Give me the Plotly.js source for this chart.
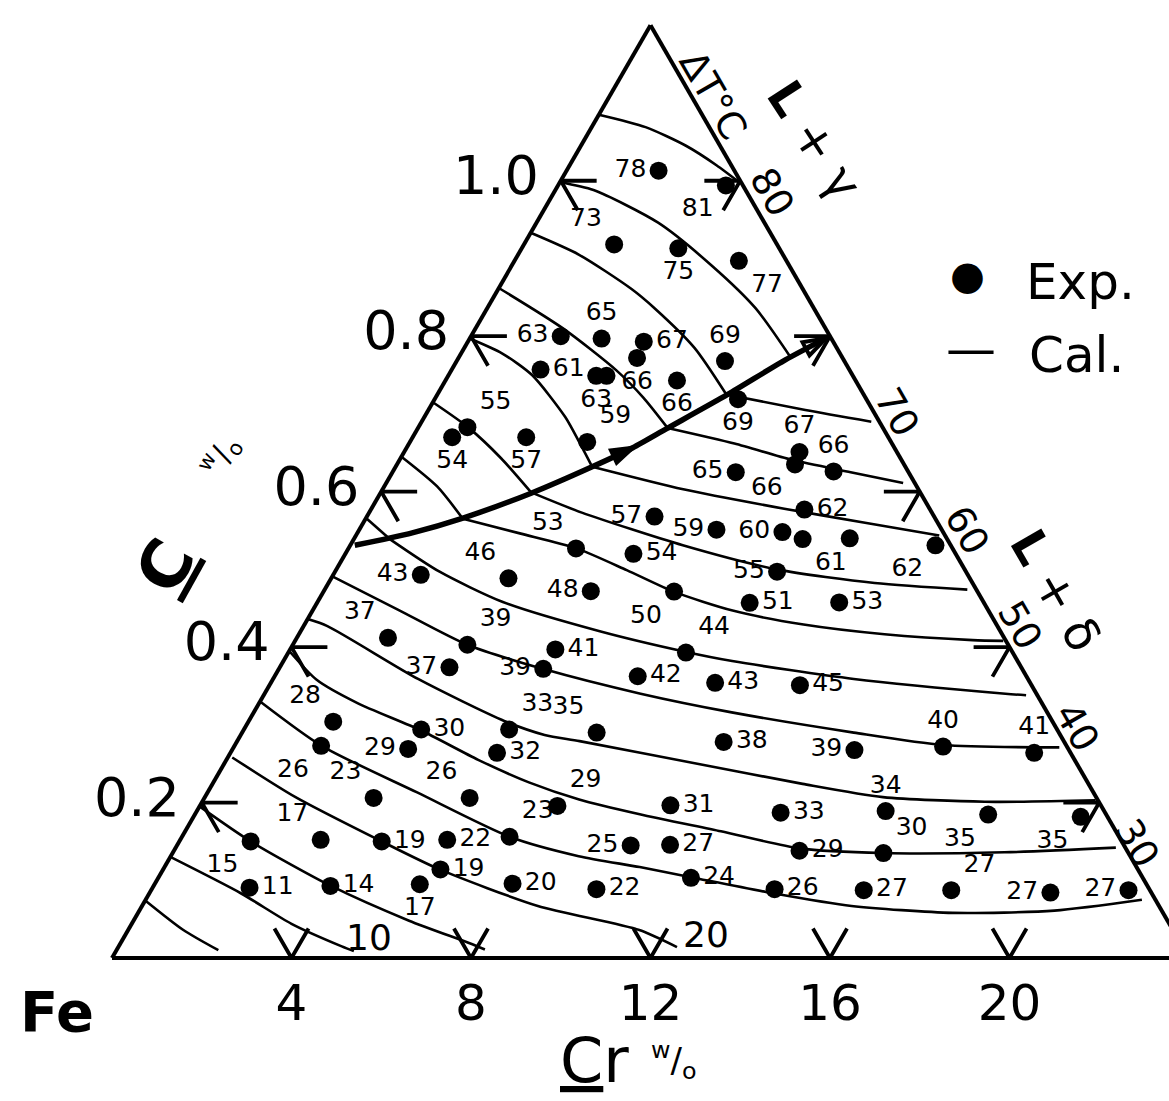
<!DOCTYPE html>
<html>
<head>
<meta charset="utf-8">
<script src="https://cdn.plot.ly/plotly-3.0.1.min.js"></script>
<style>
  html, body { margin: 0; padding: 0; background: #fff; overflow: hidden; }
  #chart { width: 1200px; height: 1101px; }
</style>
</head>
<body>
<div id="chart"></div>
<script>
// Fe corner of the Fe-Cr-C system: freezing range ΔT (°C), experiment vs calculation.
// Ternary scale: Cr (w/o) + 20·C (w/o) = 24 along the right-hand edge.
const SUM = 24;
const C_FACTOR = 20;

// ---- experimental points (Cr w/o, C w/o, measured ΔT °C) ----
const expCr = [2.05, 3.74, 2.01, 3.49, 5.00, 2.00, 2.94, 3.92, 3.98, 5.16,
               1.98, 3.30, 3.53, 5.98, 6.76, 1.09, 0.88, 2.53, 3.95, 7.65,
               6.41, 7.96, 8.81, 8.87, 9.82, 9.66, 9.46, 10.00, 11.04, 13.04,
               6.42, 9.85, 7.81, 9.64, 11.63, 5.07, 1.95, 3.95, 5.95, 2.03,
               3.89, 3.78, 5.91, 5.89, 8.86, 8.09, 9.90, 11.82, 5.91, 7.90,
               1.89, 1.93, 3.95, 3.91, 5.94, 10.85, 13.87, 15.80, 17.91, 3.77,
               5.91, 7.97, 10.48, 13.03, 15.35, 17.68, 19.77, 3.13, 1.59, 4.51,
               5.95, 7.30, 10.11, 10.98, 13.94, 15.84, 2.16, 3.94, 5.91, 6.18,
               7.97, 9.91, 11.87, 13.88, 15.88, 17.83, 20.07, 21.78];
const expC  = [1.013, 0.994, 0.918, 0.913, 0.897, 0.800, 0.797, 0.793, 0.772, 0.743,
               0.757, 0.749, 0.749, 0.768, 0.719, 0.683, 0.670, 0.670, 0.664, 0.625,
               0.568, 0.551, 0.651, 0.635, 0.626, 0.577, 0.548, 0.539, 0.540, 0.531,
               0.520, 0.497, 0.4715, 0.457, 0.4575, 0.527, 0.493, 0.4885, 0.472, 0.412,
               0.403, 0.374, 0.397, 0.372, 0.393, 0.3625, 0.354, 0.351, 0.294, 0.290,
               0.304, 0.273, 0.294, 0.269, 0.264, 0.278, 0.2675, 0.272, 0.264, 0.206,
               0.206, 0.1956, 0.1964, 0.187, 0.189, 0.1845, 0.1816, 0.152, 0.150, 0.150,
               0.152, 0.156, 0.1448, 0.1456, 0.138, 0.135, 0.0905, 0.0927, 0.0949, 0.1139,
               0.0956, 0.0885, 0.1032, 0.0885, 0.0872, 0.0872, 0.0842, 0.0872];
const expDT = [78, 81, 73, 75, 77, 63, 65, 67, 66, 66,
               61, 63, null, 69, 69, 55, 54, 57, 59, 65,
               57, 59, 67, 66, 66, 62, 60, 61, null, 62,
               54, 55, 50, 51, 53, 53, 43, 46, 48, 37,
               39, 37, 41, 39, 44, 42, 43, 45, 33, 35,
               28, 26, 30, 29, 32, 38, 39, 40, 41, 23,
               26, 29, 31, 33, 34, 35, 35, 17, 15, 19,
               22, 23, 25, 27, 29, 30, 11, 14, 17, 19,
               20, 22, 24, 26, 27, 27, 27, 27];
// where each value is written next to its dot
const expLabelSide = ['ML','BL','TL','BC','BR','ML','TC','MR','BC','BC',
                      'MR','BC','MC','TC','BC','TR','BC','BC','TR','ML',
                      'ML','ML','TC','BL','TC','MR','ML','BR','MC','BL',
                      'MR','ML','BL','MR','MR','TL','ML','TL','ML','TL',
                      'TR','ML','MR','ML','TR','MR','MR','MR','TR','TL',
                      'TL','BL','MR','ML','MR','MR','ML','TC','TC','TL',
                      'TL','TR','MR','MR','TC','BL','BL','TL','BL','MR',
                      'MR','TR','ML','MR','MR','TR','MR','MR','BC','MR',
                      'MR','MR','MR','MR','MR','TR','ML','ML'];

// ---- calculated ΔT curves, [Cr, C] pairs (g: L+γ side, d: L+δ side) ----
const cal5   = [[0,0.074],[1.23,0.036],[2.27,0.010]];
const cal10  = [[0,0.130],[2.05,0.083],[3.56,0.044],[4.97,0.015],[5.30,0.009]];
const cal15  = [[0,0.195],[1.59,0.150],[3.94,0.093],[6.14,0.048],[7.78,0.019],[8.2,0.011]];
const cal20  = [[0.1,0.258],[2.02,0.207],[4.51,0.150],[6.16,0.114],[8.82,0.067],[11.39,0.036],[12.45,0.014]];
const cal25  = [[0,0.330],[1.94,0.273],[4.67,0.213],[7.30,0.156],[9.09,0.131],[10.59,0.117],
                [11.86,0.104],[13.93,0.083],[15.81,0.067],[18.16,0.058],[20.39,0.061],[22.20,0.075]];
const cal30  = [[0,0.395],[0.98,0.358],[2.19,0.328],[3.95,0.293],[5.61,0.255],[7.03,0.226],
                [8.37,0.204],[9.91,0.185],[11.94,0.163],[13.92,0.141],[15.83,0.135],
                [18.53,0.136],[20.95,0.142]];
const cal35  = [[0,0.436],[0.53,0.427],[3.23,0.359],[5.69,0.305],[6.77,0.287],[7.63,0.279],
                [10.64,0.249],[13.15,0.224],[15.11,0.207],[17.44,0.201],[19.89,0.203]];
const cal40  = [[0,0.491],[1.90,0.448],[3.89,0.403],[5.88,0.372],[8.38,0.340],[10.65,0.316],
                [13.63,0.290],[15.78,0.274],[18.40,0.271]];
const cal45g = [[0,0.566],[0.80,0.539]];
const cal45d = [[0.80,0.539],[2.33,0.497],[4.13,0.458],[6.69,0.420],[8.83,0.394],[10.0,0.382],
                [12.94,0.359],[16.51,0.340],[16.99,0.338]];
const cal50g = [[0,0.645],[1.17,0.607],[2.17,0.565]];
const cal50d = [[2.17,0.565],[3.65,0.546],[5.08,0.527],[6.48,0.499],[7.82,0.471],[9.36,0.447],
                [11.12,0.429],[13.05,0.4165],[15.09,0.409],[15.78,0.408]];
const cal55g = [[0,0.715],[1.10,0.683],[2.24,0.643],[3.35,0.599]];
const cal55d = [[3.35,0.599],[4.74,0.573],[7.41,0.531],[9.81,0.500],[12.17,0.4825],[14.32,0.474]];
const cal60g = [[0,0.797],[0.91,0.778],[1.86,0.750],[3.14,0.696],[3.77,0.664],[4.38,0.632]];
const cal60d = [[4.38,0.632],[6.70,0.603],[9.20,0.578],[11.18,0.560],[13.0,0.5435]];
const cal65g = [[0,0.862],[1.95,0.810],[3.68,0.756],[4.63,0.721],[5.56,0.682]];
const cal65d = [[5.56,0.682],[7.25,0.662],[8.74,0.641],[10.21,0.625],[11.52,0.611]];
const cal70g = [[0,0.933],[1.35,0.905],[2.96,0.861],[3.73,0.836],[5.13,0.785],[6.44,0.725]];
const cal70d = [[6.44,0.725],[8.40,0.705],[10.02,0.690]];
const cal75  = [[0,0.998],[0.85,0.988],[2.71,0.946],[4.48,0.890],[5.98,0.836],[7.39,0.773]];
const cal80  = [[0,1.085],[1.20,1.069],[2.34,1.045],[3.27,1.020],[4.0,0.998]];

// L+γ / L+δ boundary, drawn toward increasing C
const boundary = [[0.1,0.531],[1.22,0.547],[2.16,0.566],[3.36,0.598],[4.38,0.632],[5.04,0.6565],
                  [5.55,0.681],[6.47,0.725],[7.31,0.7695],[7.94,0.7975]];

// ---- axis ticks ----
const cTickVals  = [0.2, 0.4, 0.6, 0.8, 1.0];
const cTickText  = ['0.2', '0.4', '0.6', '0.8', '1.0'];
const crTickVals = [4, 8, 12, 16, 20];
const crTickText = ['4', '8', '12', '16', '20'];

// ---- drawing ----
const FONT = 'DejaVu Sans, Verdana, sans-serif';
const W = 1200, H = 1101;
const triLeft = 112, triRight = 1189, triBase = 958;
const triHeight = (triRight - triLeft) * Math.sqrt(3) / 2;

const sideMap = {TL:'top left', TC:'top center', TR:'top right',
                 ML:'middle left', MC:'middle center', MR:'middle right',
                 BL:'bottom left', BC:'bottom center', BR:'bottom right'};

const toA = c => c * C_FACTOR;

function curveTrace(pairs, width) {
  return {
    type: 'scatterternary', mode: 'lines',
    a: pairs.map(p => toA(p[1])), c: pairs.map(p => p[0]),
    line: {color: '#000', width: width || 2.6, shape: 'spline', smoothing: 0.7},
    hoverinfo: 'skip', showlegend: false, cliponaxis: false
  };
}

const traces = [];
[cal5, cal10, cal15, cal20, cal25, cal30, cal35, cal40, cal45g, cal45d,
 cal50g, cal50d, cal55g, cal55d, cal60g, cal60d, cal65g, cal65d,
 cal70g, cal70d, cal75, cal80].forEach(p => traces.push(curveTrace(p)));

// heavy phase boundary
traces.push(curveTrace(boundary, 5.5));

// arrowheads on the boundary (mid-way and at the end)
function arrowHead(i, symbol, size) {
  const pts = [boundary[i - 1], boundary[i]];
  return {
    type: 'scatterternary', mode: 'markers',
    a: pts.map(p => toA(p[1])), c: pts.map(p => p[0]),
    marker: {symbol: symbol, size: [0, size], opacity: [0, 1], color: '#000',
             angleref: 'previous', line: {color: '#000', width: 4}},
    hoverinfo: 'skip', showlegend: false, cliponaxis: false
  };
}
traces.push(arrowHead(5, 'arrow', 22));
traces.push(arrowHead(boundary.length - 1, 'arrow-open', 24));

// grid-direction tick marks on the three edges
(function () {
  const a = [], c = [];
  const armC = 0.038, armCr = 0.8, armCr2 = 0.76;
  cTickVals.forEach(v => {
    a.push(toA(v), toA(v), toA(v - armC), null); c.push(armCr, 0, armCr2, null);
    const cr = SUM - toA(v);
    a.push(toA(v), toA(v), toA(v - armC), null); c.push(cr - armCr, cr, cr, null);
  });
  crTickVals.forEach(u => {
    a.push(toA(armC), 0, toA(armC), null); c.push(u - armCr2, u, u, null);
  });
  traces.push({type: 'scatterternary', mode: 'lines', a: a, c: c,
               line: {color: '#000', width: 3.8}, hoverinfo: 'skip',
               showlegend: false, cliponaxis: false, connectgaps: false});
})();

// experimental points with their ΔT values
traces.push({
  type: 'scatterternary', mode: 'markers+text',
  a: expC.map(toA), c: expCr,
  text: expDT.map(v => v === null ? '' : String(v)),
  textposition: expLabelSide.map(s => sideMap[s]),
  textfont: {family: FONT, size: 25, color: '#000'},
  marker: {size: 18, color: '#000'},
  hoverinfo: 'skip', showlegend: false, cliponaxis: false
});

// free text
const P = (px, py) => ({x: px / W, y: 1 - py / H});
function note(text, px, py, size, angle, bold) {
  const p = P(px, py);
  return {text: text, x: p.x, y: p.y, xref: 'paper', yref: 'paper',
          xanchor: 'center', yanchor: 'middle', showarrow: false,
          textangle: angle || 0,
          font: {family: FONT, size: size, color: '#000', weight: bold ? 'bold' : 'normal'}};
}
const annotations = [
  note('ΔT°C', 713, 95, 38, 60),
  note('<b>L</b> + γ', 815, 140, 48, 57),
  note('80', 772, 192, 38, 60),
  note('70', 897, 412, 38, 60),
  note('60', 967, 530, 38, 60),
  note('50', 1020, 625, 38, 60),
  note('40', 1077, 727, 38, 60),
  note('30', 1137, 843, 38, 60),
  note('<b>L</b> + δ', 1056, 590, 48, 60),
  note('10', 369, 937, 36),
  note('20', 706, 934, 36),
  note('●', 967, 275, 40),
  note('Exp.', 1080, 282, 50),
  note('—', 971, 349, 50),
  note('Cal.', 1076, 355, 50),
  note('Fe', 57, 1011, 56, 0, true),
  note('<u>C</u>r', 594, 1060, 62),
  note('<sup>w</sup>/<sub>o</sub>', 674, 1060, 34),
  note('<u>C</u>', 165, 566, 66, -61, true),
  note('<sup>w</sup>/<sub>o</sub>', 220, 456, 30, -61)
];

const edge = {showgrid: false, showline: true, linecolor: '#000', linewidth: 4,
              min: 0, title: {text: ''}};

const layout = {
  width: W, height: H,
  margin: {l: 0, r: 0, t: 0, b: 0},
  paper_bgcolor: '#fff',
  showlegend: false,
  ternary: {
    sum: SUM,
    bgcolor: '#fff',
    domain: {x: [triLeft / W, triRight / W],
             y: [1 - triBase / H, 1 - (triBase - triHeight) / H]},
    aaxis: Object.assign({}, edge, {
      tickmode: 'array', tickvals: cTickVals.map(toA), ticktext: cTickText,
      ticks: 'outside', ticklen: 14, tickcolor: 'rgba(0,0,0,0)',
      tickfont: {family: FONT, size: 54, color: '#000'}
    }),
    baxis: Object.assign({}, edge, {
      tickmode: 'array', tickvals: crTickVals.map(v => SUM - v), ticktext: crTickText,
      ticks: '',
      tickfont: {family: FONT, size: 50, color: '#000'}
    }),
    caxis: Object.assign({}, edge, {showticklabels: false, ticks: ''})
  },
  annotations: annotations
};

Plotly.newPlot('chart', traces, layout, {displayModeBar: false, staticPlot: true});
</script>
</body>
</html>
